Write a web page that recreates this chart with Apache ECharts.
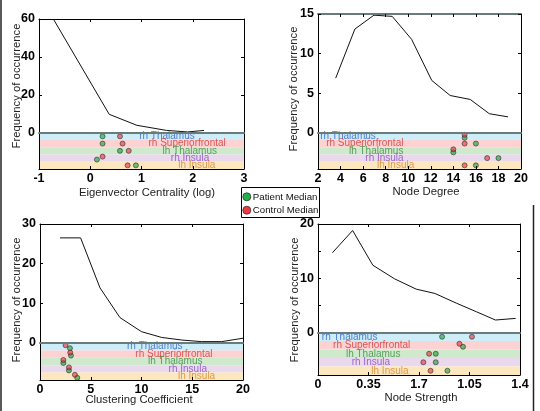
<!DOCTYPE html>
<html><head><meta charset="utf-8">
<script src="https://cdn.jsdelivr.net/npm/echarts@6/dist/echarts.min.js"></script>
<style>html,body{margin:0;padding:0;background:#fff}#c{width:540px;height:411px}</style>
</head><body><div id="c"></div>
<script>
// ---------- data ----------
const regions = ['rh Thalamus','rh Superiorfrontal','lh Thalamus','rh Insula','lh Insula'];

const ecX = [-0.72, 0.37, 0.91, 1.49, 1.9, 2.22];
const ecY = [60, 9.7, 3.9, 1.2, 0.4, 1.2];
const ecPatient = [0.24, 0.24, 0.58, 0.13, 0.89];
const ecControl = [0.58, 0.63, 0.75, 0.24, 0.73];

const ndX = [3.57, 5.27, 6.96, 8.58, 10.3, 12.09, 13.72, 15.5, 17.19, 18.85];
const ndY = [6.9, 13.1, 14.85, 14.7, 11.8, 6.6, 4.7, 4.2, 2.4, 2.0];
const ndPatient = [15, 16, 14, 18, 16];
const ndControl = [15, 15, 14, 17, 15];

const ccX = [1.97, 4.0, 5.91, 7.88, 10.0, 11.99, 13.96, 15.9, 17.9, 20.0];
const ccY = [26.5, 26.5, 13.9, 6.4, 2.85, 1.4, 0.75, 0.35, 0.35, 1.2];
const ccPatient = [2.95, 3.05, 2.3, 2.85, 3.67];
const ccControl = [2.52, 2.98, 2.3, 2.85, 3.44];

const nsX = [0.10, 0.24, 0.38, 0.53, 0.68, 0.81, 0.96, 1.10, 1.23, 1.37];
const nsY = [14.7, 18.8, 12.4, 9.9, 8.0, 7.2, 5.4, 3.8, 2.3, 2.6];
const nsPatient = [0.86, 1.005, 0.816, 0.816, 0.897];
const nsControl = [1.067, 0.98, 0.77, 0.73, 0.78];
const nsXTickLabels = ['0', '0.35', '1.7', '1.05', '1.4'];

// axis ranges / tick steps: [min, max, step]
const ecXRange = [-1, 3, 1],   ecYRange = [0, 60, 20], ecYLabelStep = 20;
const ndXRange = [2, 20, 2],   ndYRange = [0, 15, 5],  ndYLabelStep = 5;
const ccXRange = [0, 20, 5],   ccYRange = [0, 30, 10], ccYLabelStep = 10;
const nsXRange = [0, 1.4, 0.35], nsYRange = [0, 20, 5], nsYLabelStep = 10;

const legendNames = ['Patient Median', 'Control Median'];

// ---------- styling / layout ----------
const FONT = '"Liberation Sans", Arial, sans-serif';
const bandFill = ['#cdeef8', '#fdd2d2', '#cfe9cd', '#ead8ec', '#fde7bf'];
const bandText = ['#2f5fc8', '#d63434', '#3a8c40', '#8748c8', '#d6862a'];
const patColor = 'rgba(30,165,55,0.8)';
const conColor = 'rgba(228,45,55,0.75)';
const ZERO = '#6a7b7c';

const panels = [
  { left:39, right:244, top:19, zero:132.7, bottom:169,
    x:ecX, y:ecY, pat:ecPatient, con:ecControl, xr:ecXRange, yr:ecYRange, ys:ecYLabelStep,
    labelX:[0.945,1.127,1.40,1.563,1.706], near:0.12,
    xTitle:'Eigenvector Centrality (log)', xTitlePos:[147,193], yTitlePos:[17,86], topLine:false },
  { left:318, right:521, top:14, zero:132.7, bottom:169,
    x:ndX, y:ndY, pat:ndPatient, con:ndControl, xr:ndXRange, yr:ndYRange, ys:ndYLabelStep,
    labelX:[2.15,2.68,4.7,6.15,7.19], near:0.5,
    xTitle:'Node Degree', xTitlePos:[426,192], yTitlePos:[294,89], topLine:true },
  { left:40, right:243, top:224, zero:343, bottom:380,
    x:ccX, y:ccY, pat:ccPatient, con:ccControl, xr:ccXRange, yr:ccYRange, ys:ccYLabelStep,
    labelX:[8.52,9.34,10.59,12.62,13.54], near:0.5,
    xTitle:'Clustering Coefficient', xTitlePos:[139,400], yTitlePos:[17,300], topLine:false },
  { left:318, right:520, top:224, zero:332.5, bottom:375,
    x:nsX, y:nsY, pat:nsPatient, con:nsControl, xr:nsXRange, yr:nsYRange, ys:nsYLabelStep,
    labelX:[0.023,0.101,0.19,0.23,0.366], near:0.04, xLabels:nsXTickLabels,
    xTitle:'Node Strength', xTitlePos:[421,398], yTitlePos:[295,300], topLine:false }
];

const grids = [], xAxes = [], yAxes = [], series = [], graphics = [];
const tickLab = { color:'#000', fontFamily:FONT, fontSize:12.5, fontWeight:'bold' };

panels.forEach((p) => {
  const gU = grids.length;
  grids.push({ left:p.left, top:p.top, width:p.right - p.left, height:p.zero - p.top, containLabel:false });
  const gL = grids.length;
  grids.push({ left:p.left, top:p.zero, width:p.right - p.left, height:p.bottom - p.zero, containLabel:false });

  const xBase = { type:'value', min:p.xr[0], max:p.xr[1], interval:p.xr[2], splitLine:{show:false} };

  // upper grid axes
  const xU = xAxes.length;
  xAxes.push(Object.assign({}, xBase, { gridIndex:gU, position:'bottom', z:11,
    axisLine:{show:true, onZero:false, lineStyle:{color:ZERO, width:2}},
    axisTick:{show:false}, axisLabel:{show:false} }));
  xAxes.push(Object.assign({}, xBase, { gridIndex:gU, position:'top', z:10,
    axisLine:{show:true, onZero:false, lineStyle:{color:p.topLine ? ZERO : '#000', width:p.topLine ? 2 : 1}},
    axisTick:{show:true, inside:true, length:3, lineStyle:{color:'#000'}}, axisLabel:{show:false} }));
  const yU = yAxes.length;
  yAxes.push({ gridIndex:gU, type:'value', min:p.yr[0], max:p.yr[1], interval:p.yr[2], position:'left', z:10,
    axisLine:{show:true, onZero:false, lineStyle:{color:'#000', width:1}},
    axisTick:{show:true, inside:true, length:3, lineStyle:{color:'#000'}},
    axisLabel:Object.assign({ show:true, margin:4, showMinLabel:true, showMaxLabel:true,
      formatter:(v) => (Math.abs(v / p.ys - Math.round(v / p.ys)) < 1e-6 ? String(v) : '') }, tickLab),
    splitLine:{show:false} });
  yAxes.push({ gridIndex:gU, type:'value', min:p.yr[0], max:p.yr[1], interval:p.yr[2], position:'right', z:10,
    axisLine:{show:true, onZero:false, lineStyle:{color:'#000', width:1}},
    axisTick:{show:true, inside:true, length:3, lineStyle:{color:'#000'}},
    axisLabel:{show:false}, splitLine:{show:false} });

  // lower grid axes (bands)
  const xL = xAxes.length;
  xAxes.push(Object.assign({}, xBase, { gridIndex:gL, position:'bottom', z:10,
    axisLine:{show:true, onZero:false, lineStyle:{color:'#000', width:1}},
    axisTick:{show:true, inside:true, length:3, lineStyle:{color:'#000'}},
    axisLabel:Object.assign({ show:true, margin:3, showMinLabel:true, showMaxLabel:true,
      formatter:(v, i) => (p.xLabels ? p.xLabels[i] : String(v)) }, tickLab) }));
  const yL = yAxes.length;
  yAxes.push({ gridIndex:gL, type:'category', data:regions, inverse:true, position:'left', z:0,
    axisLine:{show:false}, axisTick:{show:false}, axisLabel:{show:false}, splitLine:{show:false},
    splitArea:{show:true, interval:0, areaStyle:{color:bandFill}} });
  yAxes.push({ gridIndex:gL, type:'category', data:regions, inverse:true, position:'right', z:10,
    axisLine:{show:true, onZero:false, lineStyle:{color:'#000', width:1}},
    axisTick:{show:false}, axisLabel:{show:false}, splitLine:{show:false} });
  // extra left frame line for lower grid (above bands)
  yAxes.push({ gridIndex:gL, type:'category', data:regions, inverse:true, position:'left', offset:0, z:10,
    axisLine:{show:true, onZero:false, lineStyle:{color:'#000', width:1}},
    axisTick:{show:false}, axisLabel:{show:false}, splitLine:{show:false} });

  series.push({ type:'line', xAxisIndex:xU, yAxisIndex:yU, z:2,
    data: p.x.map((v, i) => [v, p.y[i]]), symbol:'none',
    lineStyle:{ color:'#111', width:1 }, animation:false });

  series.push({ type:'scatter', xAxisIndex:xL, yAxisIndex:yL, z:3, symbolSize:1, silent:true,
    itemStyle:{ color:'rgba(0,0,0,0)' },
    data: regions.map((r, i) => ({ value:[p.labelX[i], r],
      label:{ show:true, formatter:r, position:'right', distance:0, align:'left', verticalAlign:'middle',
        color: bandText[i], fontFamily:FONT, fontSize:10 } })),
    animation:false });

  const offs = regions.map((r, i) => Math.abs(p.pat[i] - p.con[i]) < p.near ? 1.5 : 0);
  series.push({ type:'scatter', name:legendNames[0], xAxisIndex:xL, yAxisIndex:yL, z:4, symbolSize:5,
    itemStyle:{ color:patColor, borderColor:'#333', borderWidth:0.8 },
    data: regions.map((r, i) => ({ value:[p.pat[i], r], symbolOffset:[0, offs[i]] })),
    animation:false });
  series.push({ type:'scatter', name:legendNames[1], xAxisIndex:xL, yAxisIndex:yL, z:4, symbolSize:5,
    itemStyle:{ color:conColor, borderColor:'#333', borderWidth:0.8 },
    data: regions.map((r, i) => ({ value:[p.con[i], r], symbolOffset:[0, -offs[i]] })),
    animation:false });

  graphics.push({ type:'text', x:p.xTitlePos[0], y:p.xTitlePos[1],
    style:{ text:p.xTitle, fill:'#222', font:'11.3px ' + FONT, textAlign:'center', textVerticalAlign:'middle' } });
  graphics.push({ type:'text', x:p.yTitlePos[0], y:p.yTitlePos[1], rotation:Math.PI/2,
    style:{ text:'Frequency of occurrence', fill:'#222', font:'11.3px ' + FONT, textAlign:'center', textVerticalAlign:'middle' } });
});

// legend box
graphics.push({ type:'rect', shape:{ x:241.5, y:187.5, width:78, height:30 },
  style:{ fill:'#fff', stroke:'#000', lineWidth:1 }, z:20 });
graphics.push({ type:'circle', shape:{ cx:246.8, cy:196.8, r:4 }, style:{ fill:'#22b14c', stroke:'#333', lineWidth:0.8 }, z:21 });
graphics.push({ type:'circle', shape:{ cx:246.8, cy:210.2, r:4 }, style:{ fill:'#ec3b43', stroke:'#333', lineWidth:0.8 }, z:21 });
graphics.push({ type:'text', x:252.8, y:197, z:21, style:{ text:legendNames[0], fill:'#111', font:'9.7px ' + FONT, textVerticalAlign:'middle' } });
graphics.push({ type:'text', x:252.8, y:210.4, z:21, style:{ text:legendNames[1], fill:'#111', font:'9.7px ' + FONT, textVerticalAlign:'middle' } });
graphics.push({ type:'line', shape:{ x1:1, y1:0, x2:1, y2:411 }, style:{ stroke:'#222', lineWidth:1.5 }, z:20 });
graphics.push({ type:'line', shape:{ x1:533.5, y1:205, x2:533.5, y2:411 }, style:{ stroke:'#222', lineWidth:1.5 }, z:20 });

const chart = echarts.init(document.getElementById('c'), null, { renderer:'canvas' });
chart.setOption({
  animation:false,
  backgroundColor:'#fff',
  grid: grids, xAxis: xAxes, yAxis: yAxes, series: series,
  graphic: graphics
});
</script></body></html>
